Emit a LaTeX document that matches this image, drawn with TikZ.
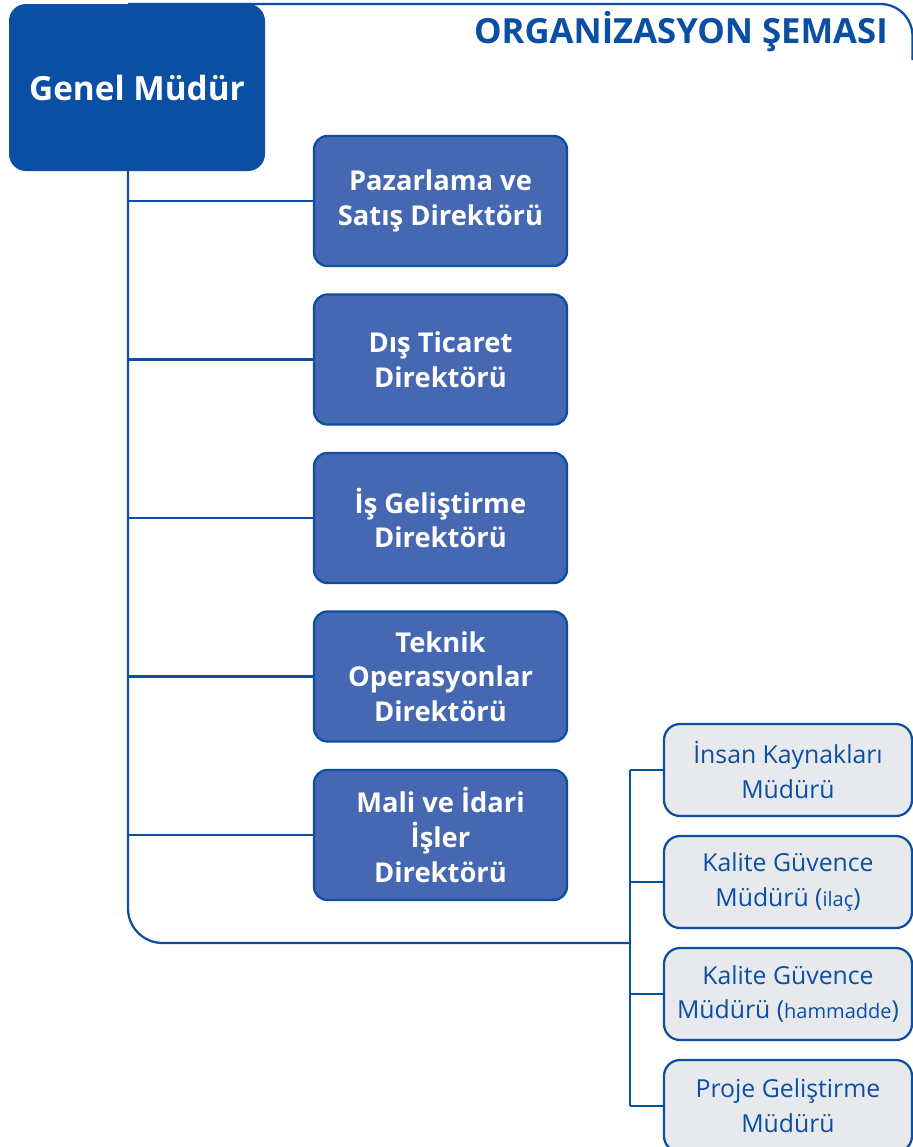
\documentclass[tikz,border=0pt]{standalone}
\usepackage{fontspec}
\setmainfont{Open Sans}
\usetikzlibrary{positioning}

\definecolor{darkblue}{HTML}{0A4FA3}
\definecolor{midblue}{HTML}{4667B1}
\definecolor{lightgray}{HTML}{E7E9EC}

\begin{document}
\begin{tikzpicture}[
    x = 0.75pt, y = -0.75pt, % one unit = one pixel of the reference
    conn/.style = {draw = darkblue, line width = 1.7pt},
    node distance = 19.675pt,
]

\tikzstyle{chief}=[
    draw = darkblue,
    line width = 1.5pt,
    fill = darkblue,
    rounded corners = 12pt,
    minimum width = 190.5pt,
    minimum height = 123.75pt,
    text = white,
    font = \bfseries\fontsize{25}{28}\selectfont,
]
\tikzstyle{director}=[
    draw = darkblue,
    line width = 1.7pt,
    fill = midblue,
    rounded corners = 10pt,
    minimum width = 189.75pt,
    minimum height = 97.5pt,
    align = center,
    text = white,
    font = \bfseries\fontsize{20.5}{26}\selectfont,
]
\tikzstyle{manager}=[
    draw = darkblue,
    line width = 1.7pt,
    fill = lightgray,
    rounded corners = 12pt,
    minimum width = 186pt,
    minimum height = 69pt,
    align = center,
    text = darkblue,
    font = \fontsize{18.6}{26}\selectfont,
]

\useasboundingbox (0,0) rectangle (913,1147);
\clip (0,0) rectangle (913,1147);

% frame and trunk
\coordinate (trunk) at (128,4);
\coordinate (corner) at (128,943);
\coordinate (sub) at (630,943);
\draw[conn] (128,170) -- (trunk);
\draw[conn, rounded corners=24pt] (trunk) -- (912.5,4) -- (912.5,60);
\draw[conn, rounded corners=26pt] (128,170) -- (corner) -- (sub);

\node[chief] (gm) at (137,87.5) {Genel Müdür};
\node[anchor=east, inner sep=0pt, text=darkblue, font=\bfseries\fontsize{26}{28}\selectfont]
    (title) at (888,32) {ORGANİZASYON ŞEMASI};

% directors
\node[director] (d1) at (440.5,201) {Pazarlama ve\\Satış Direktörü};
\node[director] (d2) [below=of d1] {Dış Ticaret\\Direktörü};
\node[director] (d3) [below=of d2] {İş Geliştirme\\Direktörü};
\node[director] (d4) [below=of d3] {Teknik\\Operasyonlar\\Direktörü};
\node[director] (d5) [below=of d4] {Mali ve İdari\\İşler\\Direktörü};

\foreach \d in {d1,d2,d3,d4,d5}
    \draw[conn] (\d.west -| trunk) -- (\d.west);

% managers
\node[manager] (m1) at (788,770) {İnsan Kaynakları\\Müdürü};
\node[manager] (m2) [below=13.3pt of m1] {Kalite Güvence\\Müdürü ({\fontsize{15}{26}\selectfont ilaç})};
\node[manager] (m3) [below=13.3pt of m2] {Kalite Güvence\\Müdürü ({\fontsize{15}{26}\selectfont hammadde})};
\node[manager] (m4) [below=13.3pt of m3] {Proje Geliştirme\\Müdürü};

\draw[conn] (m1.west -| sub) -- (m4.west -| sub);
\foreach \m in {m1,m2,m3,m4}
    \draw[conn] (\m.west -| sub) -- (\m.west);
\end{tikzpicture}
\end{document}
